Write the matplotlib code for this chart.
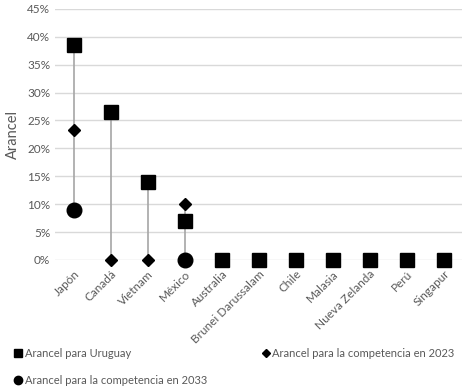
import numpy as np
import matplotlib.pyplot as plt
from matplotlib.lines import Line2D
from matplotlib.ticker import PercentFormatter

plt.rcParams["font.family"] = ["Lato", "DejaVu Sans"]

# Datos
paises = ["Japón", "Canadá", "Vietnam", "México", "Australia", "Brunei Darussalam",
          "Chile", "Malasia", "Nueva Zelanda", "Perú", "Singapur"]
uruguay = [0.385, 0.265, 0.14, 0.07, 0, 0, 0, 0, 0, 0, 0]
comp_2023 = [0.233, 0.0, 0.0, 0.10, None, None, None, None, None, None, None]
comp_2033 = [0.09, None, None, 0.0, None, None, None, None, None, None, None]

gris = "#595959"
x = np.arange(len(paises))

fig = plt.figure(figsize=(4.71, 3.88), dpi=100)
ax = fig.add_axes([0.117, 0.33, 0.864, 0.647])

# lineas de maximo-minimo
for i in range(len(paises)):
    vals = [v for v in (uruguay[i], comp_2023[i], comp_2033[i]) if v is not None]
    if max(vals) > min(vals):
        ax.vlines(x[i], min(vals), max(vals), color="#a6a6a6", lw=1.2, zorder=2)

c23 = np.array([np.nan if v is None else v for v in comp_2023])
c33 = np.array([np.nan if v is None else v for v in comp_2033])
ax.plot(x, uruguay, "s", color="black", ms=10.5, ls="none", clip_on=False, zorder=3)
ax.plot(x, c23, "D", color="black", ms=6.5, ls="none", clip_on=False, zorder=4)
ax.plot(x, c33, "o", color="black", ms=10.5, ls="none", clip_on=False, zorder=3)

ax.set_xlim(-0.5, len(paises) - 0.5)
ax.set_ylim(0, 0.45)
ax.set_yticks(np.arange(0, 0.46, 0.05))
ax.yaxis.set_major_formatter(PercentFormatter(1.0, decimals=0))
ax.grid(axis="y", color="#d9d9d9", lw=1)
ax.set_axisbelow(True)
for s in ax.spines.values():
    s.set_visible(False)
ax.tick_params(length=0, colors=gris, labelsize=8.5)
ax.tick_params(axis="x", pad=6)
ax.set_xticks(x)
ax.set_xticklabels(paises, rotation=45, ha="right", rotation_mode="anchor")
ax.set_ylabel("Arancel", color=gris, fontsize=10.5, labelpad=5)

h1 = Line2D([], [], marker="s", color="black", ls="none", ms=6)
h2 = Line2D([], [], marker="D", color="black", ls="none", ms=4)
h3 = Line2D([], [], marker="o", color="black", ls="none", ms=6)
kw = dict(frameon=False, fontsize=8, labelcolor=gris, handletextpad=0.1,
          handlelength=1.0, labelspacing=1.4, loc="lower left", borderaxespad=0,
          borderpad=0.1)
fig.legend([h1, h3], ["Arancel para Uruguay", "Arancel para la competencia en 2033"],
           bbox_to_anchor=(0.025, 0.003), **kw)
fig.legend([h2], ["Arancel para la competencia en 2023"],
           bbox_to_anchor=(0.55, 0.073), **kw)

fig.savefig("out.png", dpi=100)
